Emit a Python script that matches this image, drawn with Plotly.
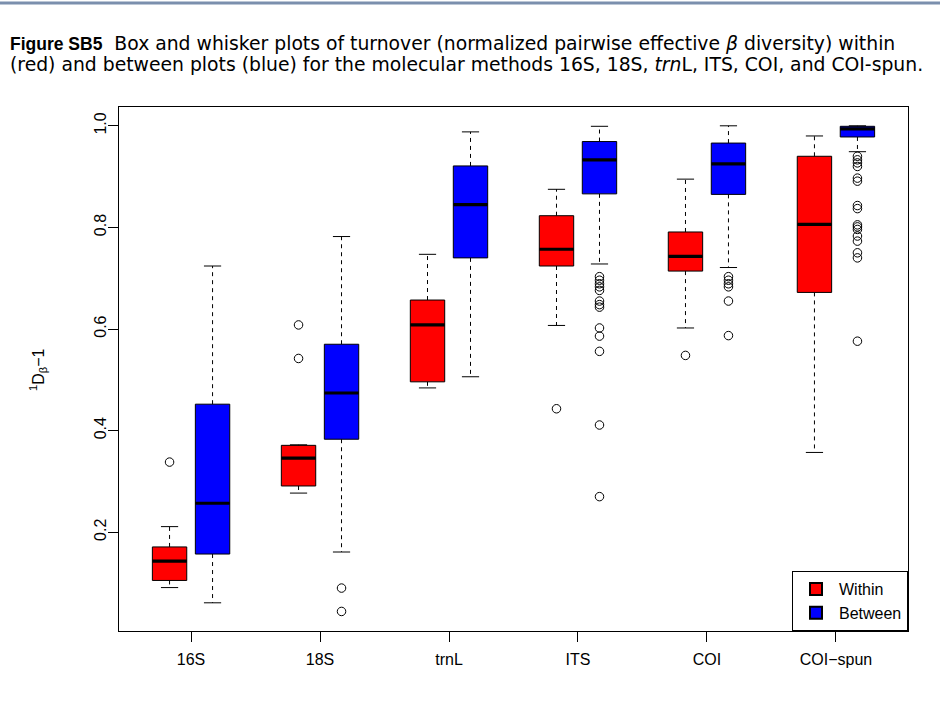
import plotly.graph_objects as go

# Molecular methods on the x axis
categories = ["16S", "18S", "trnL", "ITS", "COI", "COI\u2212spun"]

# Within-plot turnover: box statistics per method
within_lower = [0.091, 0.277, 0.484, 0.607, 0.602, 0.357]
within_q1 = [0.105, 0.291, 0.496, 0.724, 0.714, 0.672]
within_median = [0.143, 0.346, 0.608, 0.757, 0.743, 0.806]
within_q3 = [0.171, 0.371, 0.657, 0.823, 0.791, 0.940]
within_upper = [0.211, 0.372, 0.747, 0.875, 0.895, 0.980]
within_outliers = [
    [0.338],
    [0.608, 0.542],
    [],
    [0.443],
    [0.548],
    [],
]

# Between-plot turnover: box statistics per method
between_lower = [0.061, 0.161, 0.506, 0.728, 0.721, 0.949]
between_q1 = [0.157, 0.383, 0.740, 0.866, 0.865, 0.978]
between_median = [0.257, 0.474, 0.845, 0.933, 0.925, 0.994]
between_q3 = [0.452, 0.570, 0.921, 0.969, 0.966, 0.999]
between_upper = [0.724, 0.782, 0.988, 0.999, 1.000, 1.000]
between_outliers = [
    [],
    [0.090, 0.044],
    [],
    [0.703, 0.696, 0.689, 0.683, 0.676, 0.655, 0.648, 0.643, 0.602, 0.586,
     0.556, 0.411, 0.270],
    [0.703, 0.696, 0.689, 0.683, 0.655, 0.587],
    [0.940, 0.933, 0.927, 0.920, 0.897, 0.891, 0.843, 0.837, 0.805, 0.801,
     0.796, 0.783, 0.773, 0.750, 0.740, 0.576],
]

W, H = 940, 705
ML, MR, MT, MB = 119, 32, 107, 74
PW, PH = W - ML - MR, H - MT - MB


def px_x(px):
    return (px - ML) / PW


def px_y(py):
    return 1 - (py - MT) / PH


FONT = "Liberation Sans, Arial, sans-serif"
CAPTION_FONT = "DejaVu Sans, sans-serif"
BOX_W = 0.8
CAP_HALF = 0.2

fig = go.Figure()


def add_series(name, color, pos, lower, q1, med, q3, upper, outliers):
    # Box body (whiskers drawn separately in R style)
    fig.add_trace(go.Box(
        name=name, x=pos, q1=q1, median=med, q3=q3,
        lowerfence=q1, upperfence=q3,
        width=BOX_W, fillcolor=color,
        line=dict(color="black", width=1),
        whiskerwidth=0, showlegend=True, hoverinfo="skip",
    ))
    wx, wy, cx, cy, mx, my = [], [], [], [], [], []
    for p, lo, a, m, b, hi in zip(pos, lower, q1, med, q3, upper):
        wx += [p, p, None, p, p, None]
        wy += [b, hi, None, a, lo, None]
        cx += [p - CAP_HALF, p + CAP_HALF, None, p - CAP_HALF, p + CAP_HALF, None]
        cy += [hi, hi, None, lo, lo, None]
        mx += [p - BOX_W / 2, p + BOX_W / 2, None]
        my += [m, m, None]
    fig.add_trace(go.Scatter(x=wx, y=wy, mode="lines", showlegend=False,
                             hoverinfo="skip",
                             line=dict(color="black", width=1, dash="4px,4px")))
    fig.add_trace(go.Scatter(x=cx, y=cy, mode="lines", showlegend=False,
                             hoverinfo="skip",
                             line=dict(color="black", width=1)))
    fig.add_trace(go.Scatter(x=mx, y=my, mode="lines", showlegend=False,
                             hoverinfo="skip",
                             line=dict(color="black", width=3.2)))
    ox, oy = [], []
    for p, pts in zip(pos, outliers):
        ox += [p] * len(pts)
        oy += pts
    fig.add_trace(go.Scatter(x=ox, y=oy, mode="markers", showlegend=False,
                             hoverinfo="skip",
                             marker=dict(symbol="circle-open", size=8.5,
                                         color="black", line=dict(width=1))))


within_pos = [3 * i + 1 for i in range(len(categories))]
between_pos = [3 * i + 2 for i in range(len(categories))]

add_series("Within", "#ff0000", within_pos, within_lower, within_q1,
           within_median, within_q3, within_upper, within_outliers)
add_series("Between", "#0000ff", between_pos, between_lower, between_q1,
           between_median, between_q3, between_upper, between_outliers)

tick_pos = [3 * i + 1.5 for i in range(len(categories))]

fig.update_layout(
    width=W, height=H,
    margin=dict(l=ML, r=MR, t=MT, b=MB),
    paper_bgcolor="white", plot_bgcolor="white",
    font=dict(family=FONT, size=16, color="black"),
    boxmode="overlay",
    xaxis=dict(range=[-0.176, 18.176], tickvals=tick_pos, ticktext=categories,
               showgrid=False, zeroline=False, showline=True, mirror=True,
               linecolor="black", linewidth=1, ticks="outside", ticklen=10,
               tickcolor="black", tickfont=dict(size=16),
               ticklabelstandoff=4),
    yaxis=dict(range=[0.0055, 1.037], tickvals=[0.2, 0.4, 0.6, 0.8, 1.0],
               ticktext=["0.2", "0.4", "0.6", "0.8", "1.0"], tickangle=-90,
               showgrid=False, zeroline=False, showline=True, mirror=True,
               linecolor="black", linewidth=1, ticks="outside", ticklen=10,
               tickcolor="black", tickfont=dict(size=16),
               ticklabelstandoff=-4),
    legend=dict(x=1, y=0, xanchor="right", yanchor="bottom",
                bordercolor="black", borderwidth=1, bgcolor="white",
                font=dict(size=16), tracegroupgap=0, itemsizing="constant",
                itemwidth=36),
    showlegend=True,
)

# Caption above the chart
fig.add_annotation(
    xref="paper", yref="paper", x=px_x(8), y=px_y(43),
    xanchor="left", yanchor="middle", showarrow=False,
    font=dict(family=CAPTION_FONT, size=18.8, color="black"),
    text="<span style=\"font-family:'Liberation Sans'; font-size:17.5px\">"
         "<b>Figure SB5</b></span>  Box and whisker plots of turnover "
         "(normalized pairwise effective <i>\u03b2</i> diversity) within",
)
fig.add_annotation(
    xref="paper", yref="paper", x=px_x(8), y=px_y(64),
    xanchor="left", yanchor="middle", showarrow=False,
    font=dict(family=CAPTION_FONT, size=18.8, color="black"),
    text="(red) and between plots (blue) for the molecular methods 16S, 18S, "
         "<i>trn</i>L, ITS, COI, and COI-spun.",
)

# Y axis title
fig.add_annotation(
    xref="paper", yref="paper", x=px_x(38), y=px_y(370),
    xanchor="center", yanchor="middle", showarrow=False, textangle=-90,
    font=dict(family=FONT, size=16, color="black"),
    text="<sup>1</sup>D<sub>\u03b2</sub>\u22121",
)

# Rule across the top of the page
fig.add_shape(type="line", xref="paper", yref="paper",
              x0=px_x(0), x1=px_x(W), y0=px_y(3), y1=px_y(3),
              line=dict(color="#7b8fad", width=3))

fig.write_html("out.html")
